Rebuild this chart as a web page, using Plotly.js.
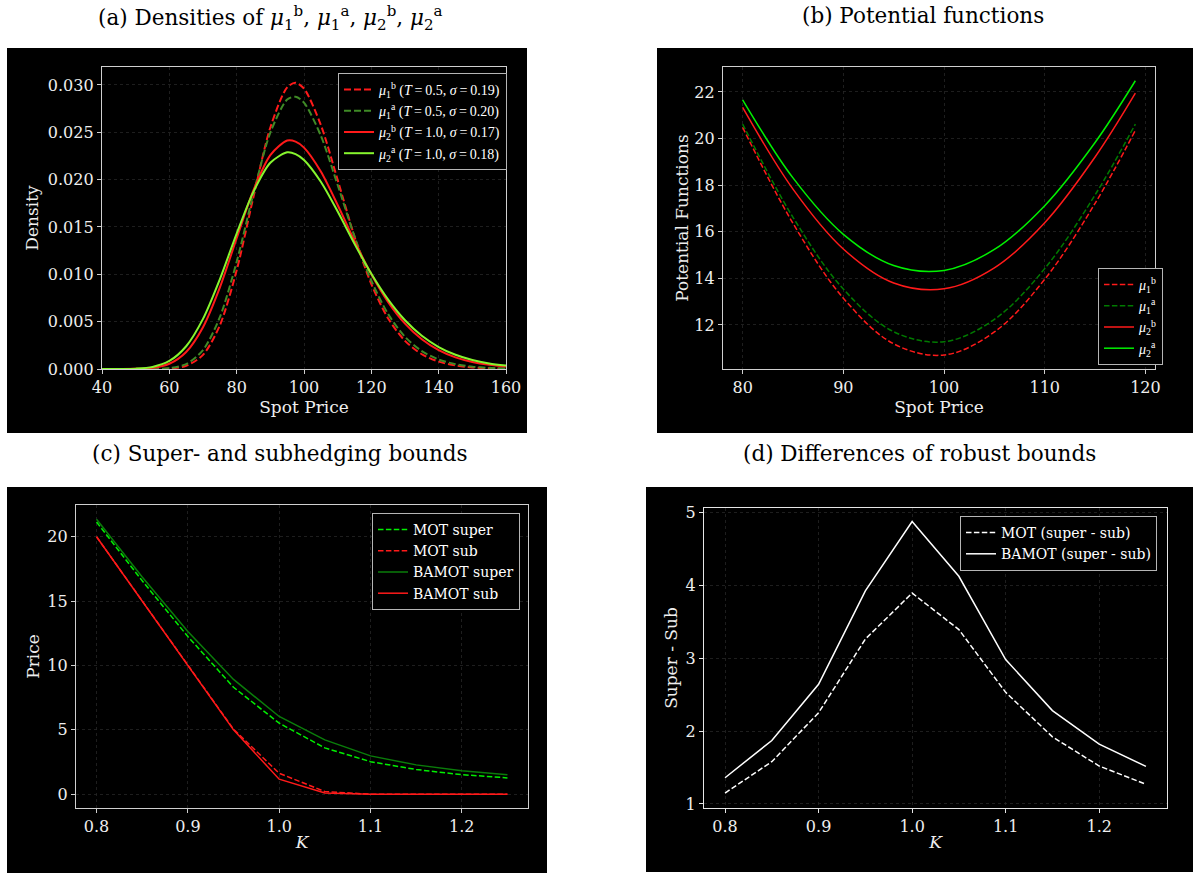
<!DOCTYPE html>
<html>
<head>
<meta charset="utf-8">
<script src="https://cdn.plot.ly/plotly-3.0.1.min.js"></script>
<style>
  html, body { margin: 0; padding: 0; background: #ffffff; }
  #chart { width: 1193px; height: 875px; }
</style>
</head>
<body>
<div id="chart"></div>
<script>
// ---- (a) densities ----
const densX = [40, 45, 50, 55, 60, 65, 70, 75, 80, 85, 90, 95, 97.5, 100, 105, 110, 115, 120, 125, 130, 135, 140, 145, 150, 155, 160];
const dens1b = [0, 0, 0.0000001, 0.0000036, 0.000046, 0.000331, 0.001491, 0.004607, 0.010423, 0.018189, 0.025515, 0.029748, 0.030232, 0.029627, 0.025779, 0.019967, 0.013984, 0.008975, 0.005337, 0.002969, 0.001559, 0.000778, 0.000371, 0.000170, 0.000075, 0.000032];
const dens1a = [0, 0, 0.0000005, 0.0000091, 0.000089, 0.000519, 0.001997, 0.005473, 0.011326, 0.018553, 0.024970, 0.028455, 0.028764, 0.028139, 0.024642, 0.019435, 0.014002, 0.009324, 0.005798, 0.003397, 0.001888, 0.001002, 0.000511, 0.000251, 0.000120, 0.000056];
const dens2b = [0, 0.0000013, 0.0000162, 0.000118, 0.000551, 0.001799, 0.004419, 0.008599, 0.013808, 0.018893, 0.022601, 0.024129, 0.024020, 0.023383, 0.020856, 0.017320, 0.013523, 0.010008, 0.007069, 0.004795, 0.003138, 0.001991, 0.001229, 0.000740, 0.000437, 0.000253];
const dens2a = [0.0000002, 0.0000039, 0.0000376, 0.000218, 0.000847, 0.002403, 0.005293, 0.009476, 0.014307, 0.018738, 0.021783, 0.022891, 0.022703, 0.022074, 0.019776, 0.016631, 0.013241, 0.010053, 0.007325, 0.005148, 0.003505, 0.002323, 0.001502, 0.000950, 0.000590, 0.000361];

// ---- (b) potential functions ----
const potX = [80, 85, 90, 95, 100, 105, 110, 115, 119];
const pot1b = [20.48, 16.36, 13.15, 11.19, 10.71, 11.70, 13.96, 17.22, 20.35];
const pot1a = [20.62, 16.62, 13.54, 11.71, 11.28, 12.24, 14.42, 17.58, 20.62];
const pot2b = [21.34, 17.83, 15.26, 13.80, 13.55, 14.45, 16.39, 19.21, 21.95];
const pot2a = [21.66, 18.31, 15.89, 14.55, 14.34, 15.24, 17.12, 19.83, 22.48];

// ---- (c) bounds and (d) differences ----
const strikes = [0.80, 0.85, 0.90, 0.95, 1.00, 1.05, 1.10, 1.15, 1.20, 1.25];
const motSuper = [21.15, 16.58, 12.25, 8.31, 5.52, 3.60, 2.53, 1.92, 1.52, 1.27];
const motSub = [20.0, 15.0, 10.0, 5.05, 1.63, 0.21, 0, 0, 0, 0];
const bamotSuper = [21.36, 16.87, 12.64, 8.92, 6.04, 4.22, 2.98, 2.28, 1.82, 1.515];
const bamotSub = [20.0, 15.0, 10.0, 5.0, 1.17, 0.10, 0, 0, 0, 0];
const motDiff = [1.15, 1.58, 2.25, 3.26, 3.89, 3.39, 2.53, 1.92, 1.52, 1.27];
const bamotDiff = [1.36, 1.87, 2.64, 3.92, 4.87, 4.12, 2.98, 2.28, 1.82, 1.515];

const W = 1193, H = 875;
const fx = p => p / W;
const fy = p => 1 - p / H;

const mu = (sub, sup) => '<i>μ</i><sub>' + sub + '</sub><sup>' + sup + '</sup>';
const th = '\u2009=\u2009';
const serifCM = 'Liberation Serif, DejaVu Serif, serif';
const serifDV = 'DejaVu Serif, serif';

const RED = '#ff1a1a';
const traces = [
  // (a)
  {x: densX, y: dens1b, xaxis: 'x', yaxis: 'y', legend: 'legend', mode: 'lines', line: {color: RED, width: 2, dash: '7px,3px', shape: 'spline', smoothing: 0.8},
   name: mu(1, 'b') + ' (<i>T</i>' + th + '0.5, <i>σ</i>' + th + '0.19)'},
  {x: densX, y: dens1a, xaxis: 'x', yaxis: 'y', legend: 'legend', mode: 'lines', line: {color: '#3f8a26', width: 2, dash: '7px,3px', shape: 'spline', smoothing: 0.8},
   name: mu(1, 'a') + ' (<i>T</i>' + th + '0.5, <i>σ</i>' + th + '0.20)'},
  {x: densX, y: dens2b, xaxis: 'x', yaxis: 'y', legend: 'legend', mode: 'lines', line: {color: RED, width: 2, shape: 'spline', smoothing: 0.8},
   name: mu(2, 'b') + ' (<i>T</i>' + th + '1.0, <i>σ</i>' + th + '0.17)'},
  {x: densX, y: dens2a, xaxis: 'x', yaxis: 'y', legend: 'legend', mode: 'lines', line: {color: '#86f52e', width: 2, shape: 'spline', smoothing: 0.8},
   name: mu(2, 'a') + ' (<i>T</i>' + th + '1.0, <i>σ</i>' + th + '0.18)'},
  // (b)
  {x: potX, y: pot1b, xaxis: 'x2', yaxis: 'y2', legend: 'legend2', mode: 'lines', line: {color: RED, width: 1.5, dash: '5.5px,2.4px', shape: 'spline'}, name: mu(1, 'b')},
  {x: potX, y: pot1a, xaxis: 'x2', yaxis: 'y2', legend: 'legend2', mode: 'lines', line: {color: '#007a00', width: 1.5, dash: '5.5px,2.4px', shape: 'spline'}, name: mu(1, 'a')},
  {x: potX, y: pot2b, xaxis: 'x2', yaxis: 'y2', legend: 'legend2', mode: 'lines', line: {color: RED, width: 1.5, shape: 'spline'}, name: mu(2, 'b')},
  {x: potX, y: pot2a, xaxis: 'x2', yaxis: 'y2', legend: 'legend2', mode: 'lines', line: {color: '#00f000', width: 1.5, shape: 'spline'}, name: mu(2, 'a')},
  // (c)
  {x: strikes, y: motSuper, xaxis: 'x3', yaxis: 'y3', legend: 'legend3', mode: 'lines', line: {color: '#00ee00', width: 1.5, dash: '5.5px,2.4px'}, name: 'MOT super'},
  {x: strikes, y: motSub, xaxis: 'x3', yaxis: 'y3', legend: 'legend3', mode: 'lines', line: {color: RED, width: 1.5, dash: '5.5px,2.4px'}, name: 'MOT sub'},
  {x: strikes, y: bamotSuper, xaxis: 'x3', yaxis: 'y3', legend: 'legend3', mode: 'lines', line: {color: '#0a7d0a', width: 1.5}, name: 'BAMOT super'},
  {x: strikes, y: bamotSub, xaxis: 'x3', yaxis: 'y3', legend: 'legend3', mode: 'lines', line: {color: RED, width: 1.5}, name: 'BAMOT sub'},
  // (d)
  {x: strikes, y: motDiff, xaxis: 'x4', yaxis: 'y4', legend: 'legend4', mode: 'lines', line: {color: '#ffffff', width: 1.5, dash: '5.5px,2.4px'}, name: 'MOT (super - sub)'},
  {x: strikes, y: bamotDiff, xaxis: 'x4', yaxis: 'y4', legend: 'legend4', mode: 'lines', line: {color: '#ffffff', width: 1.5}, name: 'BAMOT (super - sub)'}
];

function axis(extra) {
  return Object.assign({
    showline: true, mirror: true, linecolor: '#cfcfcf', linewidth: 1.2,
    ticks: 'outside', ticklen: 4, tickwidth: 1, tickcolor: '#cfcfcf',
    showgrid: true, gridcolor: '#252525', griddash: 'dot', gridwidth: 0.8,
    zeroline: false, automargin: false, fixedrange: true,
    tickfont: {family: serifDV, size: 16, color: '#eeeeee'}
  }, extra);
}
const axTitle = (text, standoff) => ({text: text, standoff: standoff, font: {family: serifDV, size: 17, color: '#eeeeee'}});

function legendBox(x, y, fam) {
  return {x: fx(x), y: fy(y), xanchor: 'left', yanchor: 'top', bgcolor: '#000000',
    bordercolor: '#b5b5b5', borderwidth: 1, font: {family: fam, size: 14, color: '#ffffff'},
    itemwidth: 30, tracegroupgap: 0};
}

const panelRect = (x0, y0, x1, y1) => ({type: 'rect', xref: 'paper', yref: 'paper', layer: 'below',
  x0: fx(x0), x1: fx(x1), y0: fy(y1), y1: fy(y0), fillcolor: '#000000', line: {width: 0}});

const heading = (text, x, y) => ({text: text, xref: 'paper', yref: 'paper', x: fx(x), y: fy(y),
  xanchor: 'center', yanchor: 'middle', showarrow: false, font: {family: serifDV, size: 21.5, color: '#000000'}});

const layout = {
  width: W, height: H,
  margin: {l: 0, r: 0, t: 0, b: 0},
  paper_bgcolor: '#ffffff', plot_bgcolor: '#000000',
  showlegend: true,
  xaxis: axis({domain: [fx(102), fx(506)], anchor: 'y', range: [40, 160], dtick: 20, tick0: 40, title: axTitle('Spot Price', 3)}),
  yaxis: axis({domain: [fy(369), fy(67)], anchor: 'x', range: [0, 0.0319], dtick: 0.005, tick0: 0, tickformat: '.3f', title: axTitle('Density', 4)}),
  xaxis2: axis({domain: [fx(723), fx(1155)], anchor: 'y2', range: [78.05, 120.95], dtick: 10, tick0: 80, title: axTitle('Spot Price', 3)}),
  yaxis2: axis({domain: [fy(369), fy(67)], anchor: 'x2', range: [10.11, 23.07], dtick: 2, tick0: 12, title: axTitle('Potential Functions', 1)}),
  xaxis3: axis({domain: [fx(76), fx(528)], anchor: 'y3', range: [0.7775, 1.2725], dtick: 0.1, tick0: 0.8, tickformat: '.1f', title: axTitle('<i>K</i>', 0)}),
  yaxis3: axis({domain: [fy(808), fy(505)], anchor: 'x3', range: [-1.07, 22.47], dtick: 5, tick0: 0, title: axTitle('Price', 3)}),
  xaxis4: axis({domain: [fx(704), fx(1167)], anchor: 'y4', range: [0.7775, 1.2725], dtick: 0.1, tick0: 0.8, tickformat: '.1f', title: axTitle('<i>K</i>', 0), linecolor: '#e6e6e6', tickcolor: '#e6e6e6'}),
  yaxis4: axis({domain: [fy(808), fy(508)], anchor: 'x4', range: [0.945, 5.056], dtick: 1, tick0: 1, title: axTitle('Super - Sub', 3), linecolor: '#e6e6e6', tickcolor: '#e6e6e6'}),
  legend: legendBox(338, 73, serifCM),
  legend2: legendBox(1098, 268, serifCM),
  legend3: legendBox(372, 513, serifDV),
  legend4: legendBox(960, 516, serifDV),
  shapes: [
    panelRect(7, 48, 527, 433),
    panelRect(657, 48, 1193, 433),
    panelRect(7, 487, 547, 873),
    panelRect(646, 487, 1193, 872)
  ],
  annotations: [
    heading('(a) Densities of ' + mu(1, 'b') + ', ' + mu(1, 'a') + ', ' + mu(2, 'b') + ', ' + mu(2, 'a'), 270, 18),
    heading('(b) Potential functions', 923, 16),
    heading('(c) Super- and subhedging bounds', 280, 453),
    heading('(d) Differences of robust bounds', 920, 453)
  ]
};

Plotly.newPlot('chart', traces, layout, {staticPlot: true, displayModeBar: false});
</script>
</body>
</html>
